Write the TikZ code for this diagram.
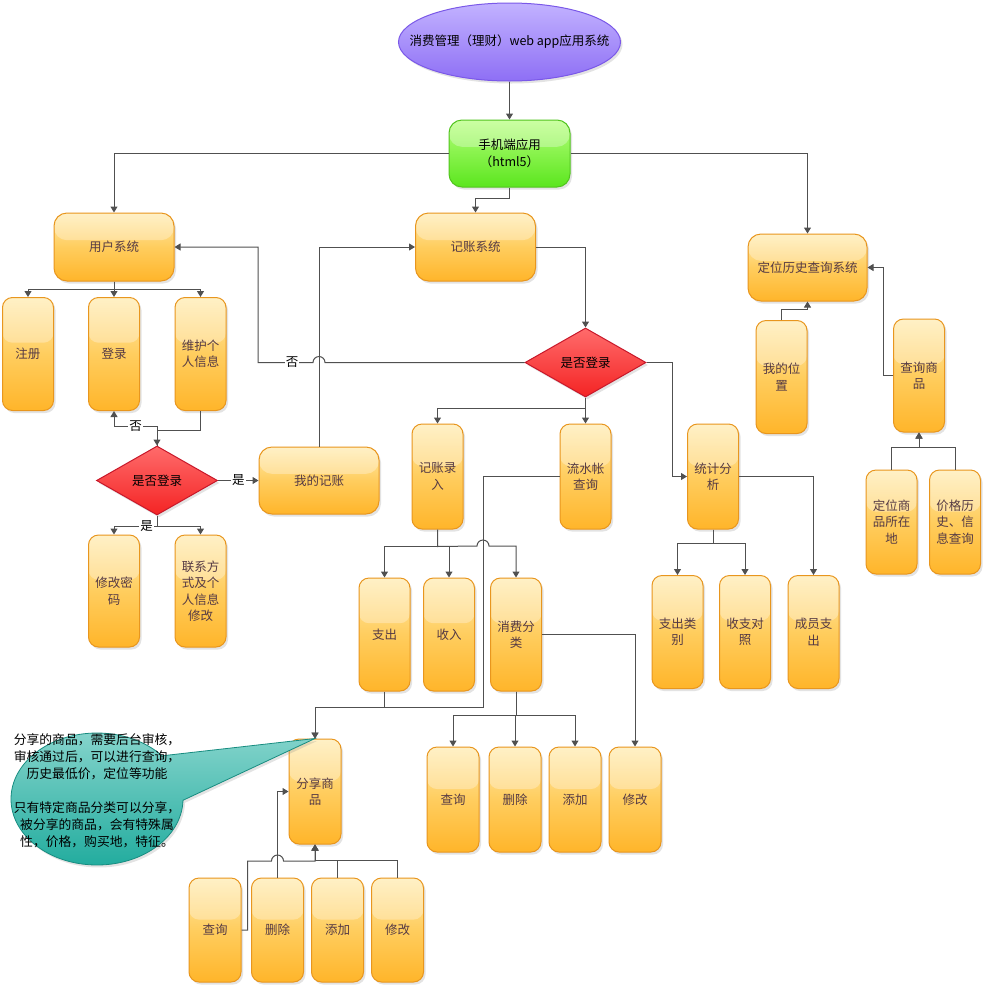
\documentclass[tikz,border=0pt]{standalone}
\usepackage{fontspec}
\setmainfont{Noto Sans CJK SC}
\usetikzlibrary{arrows.meta, positioning, shapes.geometric, shapes.callouts, shadows, calc}
\definecolor{linegray}{HTML}{505050}
\definecolor{boxline}{HTML}{E8961E}
\definecolor{boxtop}{HTML}{FFEBAE}
\definecolor{boxmid}{HTML}{FFCD5E}
\definecolor{boxbot}{HTML}{FFB52A}
\definecolor{boxtext}{HTML}{553A44}
\definecolor{asktop}{HTML}{FF6B6B}
\definecolor{askbot}{HTML}{F42424}
\definecolor{askline}{HTML}{C8182A}
\definecolor{apptop}{HTML}{B5FF7A}
\definecolor{appbot}{HTML}{5BE61E}
\definecolor{appline}{HTML}{52C41F}
\definecolor{titletop}{HTML}{C2B2FF}
\definecolor{titlebot}{HTML}{8E6FF5}
\definecolor{titleline}{HTML}{7A58E8}
\definecolor{notetop}{HTML}{8AD6CE}
\definecolor{notebot}{HTML}{1DAA9C}
\definecolor{noteline}{HTML}{178C80}

\begin{document}
\begin{tikzpicture}[x=1pt, y=-1pt, font=\fontsize{12.5}{16.5}\selectfont,
    conn/.style={draw=linegray, line width=1pt, -{Triangle[width=7pt,length=6pt]}},
    lbl/.style={fill=white, inner sep=1pt, text=black},
    gloss/.style={path picture={\fill[white,opacity=.3] (path picture bounding box.north west) rectangle ($(path picture bounding box.north east)!.4!(path picture bounding box.south east)$);}},
    softshadow/.style={drop shadow={opacity=.22, shadow xshift=2pt, shadow yshift=-2.5pt}},
    sysbox/.style={draw=boxline, line width=1pt, rounded corners=13pt, top color=boxtop, bottom color=boxbot, middle color=boxmid, text=boxtext, minimum width=120pt, minimum height=68pt, align=center, inner sep=1pt, softshadow, gloss},
    leaf/.style={sysbox, rounded corners=10pt, minimum width=51pt, minimum height=113pt},
    short/.style={leaf, minimum height=105pt},
    ask/.style={diamond, aspect=1.75, draw=askline, line width=1pt, top color=asktop, bottom color=askbot, text=black, minimum width=121pt, minimum height=69pt, inner sep=0pt, softshadow},
    appbox/.style={draw=appline, line width=1pt, rounded corners=13pt, top color=apptop, bottom color=appbot, text=black, minimum width=121pt, minimum height=67pt, align=center, softshadow, gloss},
    titlenode/.style={ellipse, draw=titleline, line width=1pt, top color=titletop, bottom color=titlebot, minimum width=222pt, minimum height=78pt, inner sep=0pt, softshadow},
    tipnote/.style={ellipse callout, draw=noteline, line width=.8pt, top color=notetop, bottom color=notebot, minimum width=172pt, minimum height=132pt, inner sep=0pt, callout pointer arc=42, softshadow}]

    \fill[white] (0,0) rectangle (985,986);
    \useasboundingbox (0,0) rectangle (985,986);

    \node[titlenode, label={[text=black]center:消费管理（理财）web app应用系统}] (sys) at (509.5,42) {};
    \node[appbox] (app) at (509.5,153.5) {手机端应用\\（html5）};

    \node[sysbox] (user) at (114,247) {用户系统};
    \node[sysbox] (acct) at (475.5,247) {记账系统};
    \node[sysbox, minimum width=119pt, minimum height=67pt] (loc) at (807.5,267.5) {定位历史查询系统};

    \node[leaf] (reg) at (28,354) {注册};
    \node[leaf, right=34pt of reg] (login) {登录};
    \node[leaf, right=34.5pt of login] (info) {维护个\\人信息};
    \node[ask] (askL) at (157,480.5) {是否登录};
    \node[sysbox, minimum height=67pt] (mine) at (319,480.5) {我的记账};
    \node[leaf, minimum height=112pt] (pwd) at (114,591) {修改密\\码};
    \node[leaf, minimum height=112pt, right=34.5pt of pwd] (contact) {联系方\\式及个\\人信息\\修改};

    \node[ask] (askR) at (585.5,362.5) {是否登录};
    \node[short] (entry) at (437.5,476.5) {记账录\\入};
    \node[short] (flow) at (585.5,476.5) {流水帐\\查询};
    \node[short] (stat) at (713,476.5) {统计分\\析};

    \node[leaf] (myloc) at (781.5,377) {我的位\\置};
    \node[leaf] (qgoods) at (919,375.5) {查询商\\品};
    \node[short, minimum height=104pt] (gpos) at (891.5,522) {定位商\\品所在\\地};
    \node[short, minimum height=104pt, right=11.5pt of gpos] (price) {价格历\\史、信\\息查询};

    \node[leaf] (out) at (384.5,634.5) {支出};
    \node[leaf, right=12.5pt of out] (income) {收入};
    \node[leaf, right=15pt of income] (cat) {消费分\\类};
    \node[leaf] (ocat) at (677.5,632) {支出类\\别};
    \node[leaf, right=15.5pt of ocat] (cmp) {收支对\\照};
    \node[leaf, right=16.5pt of cmp] (mem) {成员支\\出};

    \node[short, minimum width=52pt] (cq) at (453,799.5) {查询};
    \node[short, minimum width=52pt, right=9pt of cq] (cd) {删除};
    \node[short, minimum width=52pt, right=7pt of cd] (ca) {添加};
    \node[short, minimum width=52pt, right=7pt of ca] (cm) {修改};

    \node[short, minimum width=52pt] (share) at (315,791.5) {分享商\\品};
    \node[short, minimum width=52pt, minimum height=104pt] (sq) at (215,930) {查询};
    \node[short, minimum width=52pt, minimum height=104pt, right=9.5pt of sq] (sd) {删除};
    \node[short, minimum width=52pt, minimum height=104pt, right=7pt of sd] (sa) {添加};
    \node[short, minimum width=52pt, minimum height=104pt, right=7pt of sa] (sm) {修改};

    \node[tipnote, callout absolute pointer={(share.north)}] (tip) at (97,799) {};
    \node[align=center, text=black, font=\fontsize{12.8}{17}\selectfont] (tiptext) at (97,791)
        {分享的商品，需要后台审核，\\审核通过后，可以进行查询，\\历史最低价，定位等功能\\[17pt]只有特定商品分类可以分享，\\被分享的商品，会有特殊属\\性，价格，购买地，特征。};

    \draw[conn] (sys.south) -- (app.north);
    \draw[conn] (app.west) -| (user.north);
    \draw[conn] (app.east) -| (loc.north);
    \draw[conn] (app.south) -- ++(0,11) -| (acct.north);

    \draw[conn] (user.south) -- ++(0,8) -| (reg.north);
    \draw[conn] (user.south) -- ++(0,8) -| (login.north);
    \draw[conn] (user.south) -- ++(0,8) -| (info.north);
    \draw[conn] (info.south) -- ++(0,19) -| (askL.north);
    \draw[conn] (askL.north) -- ++(0,-19) -| node[lbl, pos=.25] {否} (login.south);
    \draw[conn] (askL.east) -- node[lbl] {是} (mine.west);
    \draw[conn] (askL.south) -- ++(0,11) -| node[lbl, pos=.12] {是} (pwd.north);
    \draw[conn] (askL.south) -- ++(0,11) -| (contact.north);
    \draw[conn] (mine.north) |- (acct.west);

    \draw[conn] (acct.east) -| (askR.north);
    \draw[conn] (askR.west) -- (325,362.5) arc[start angle=0, end angle=180, radius=6pt]
        -- node[lbl, pos=.38] {否} (258,362.5) |- (user.east);
    \draw[conn] (askR.south) -- ++(0,11) -| (entry.north);
    \draw[conn] (askR.south) -- (flow.north);
    \draw[conn] (askR.east) -- ++(26,0) |- (stat.west);

    \draw[conn] (myloc.north) -- ++(0,-11) -| (loc.south);
    \draw[conn] (qgoods.west) -- ++(-10,0) |- (loc.east);
    \draw[conn] (gpos.north) -- ++(0,-22) -| (qgoods.south);
    \draw[conn] (price.north) -- ++(0,-22) -| (qgoods.south);

    \draw[conn] (stat.south) -- ++(0,14) -| (ocat.north);
    \draw[conn] (stat.south) -- ++(0,14) -| (cmp.north);
    \draw[conn] (stat.east) -| (mem.north);

    \draw[conn] (entry.south) -- ++(0,17) -| (out.north);
    \draw[conn] (entry.south) -- ++(0,17) -| (income.north);
    \draw[conn] (entry.south) -- ++(0,17) -- (477,546) arc[start angle=180, end angle=0, radius=6pt] -| (cat.north);
    \draw[conn] (flow.west) -| (483,707) -| (share.north);
    \draw[conn] (out.south) -- ++(0,16) -| (share.north);

    \draw[conn] (cat.east) -| (cm.north);
    \draw[conn] (cat.south) -- ++(0,24) -| (cq.north);
    \draw[conn] (cat.south) -- ++(0,24) -| (cd.north);
    \draw[conn] (cat.south) -- ++(0,24) -| (ca.north);

    \draw[conn] (sq.east) -- ++(6,0) |- (271.5,861) arc[start angle=180, end angle=0, radius=6pt] -| (share.south);
    \draw[conn] (sd.north) |- (share.west);
    \draw[conn] (sa.north) -- ++(0,-17) -| (share.south);
    \draw[conn] (sm.north) -- ++(0,-17) -| (share.south);
\end{tikzpicture}
\end{document}
